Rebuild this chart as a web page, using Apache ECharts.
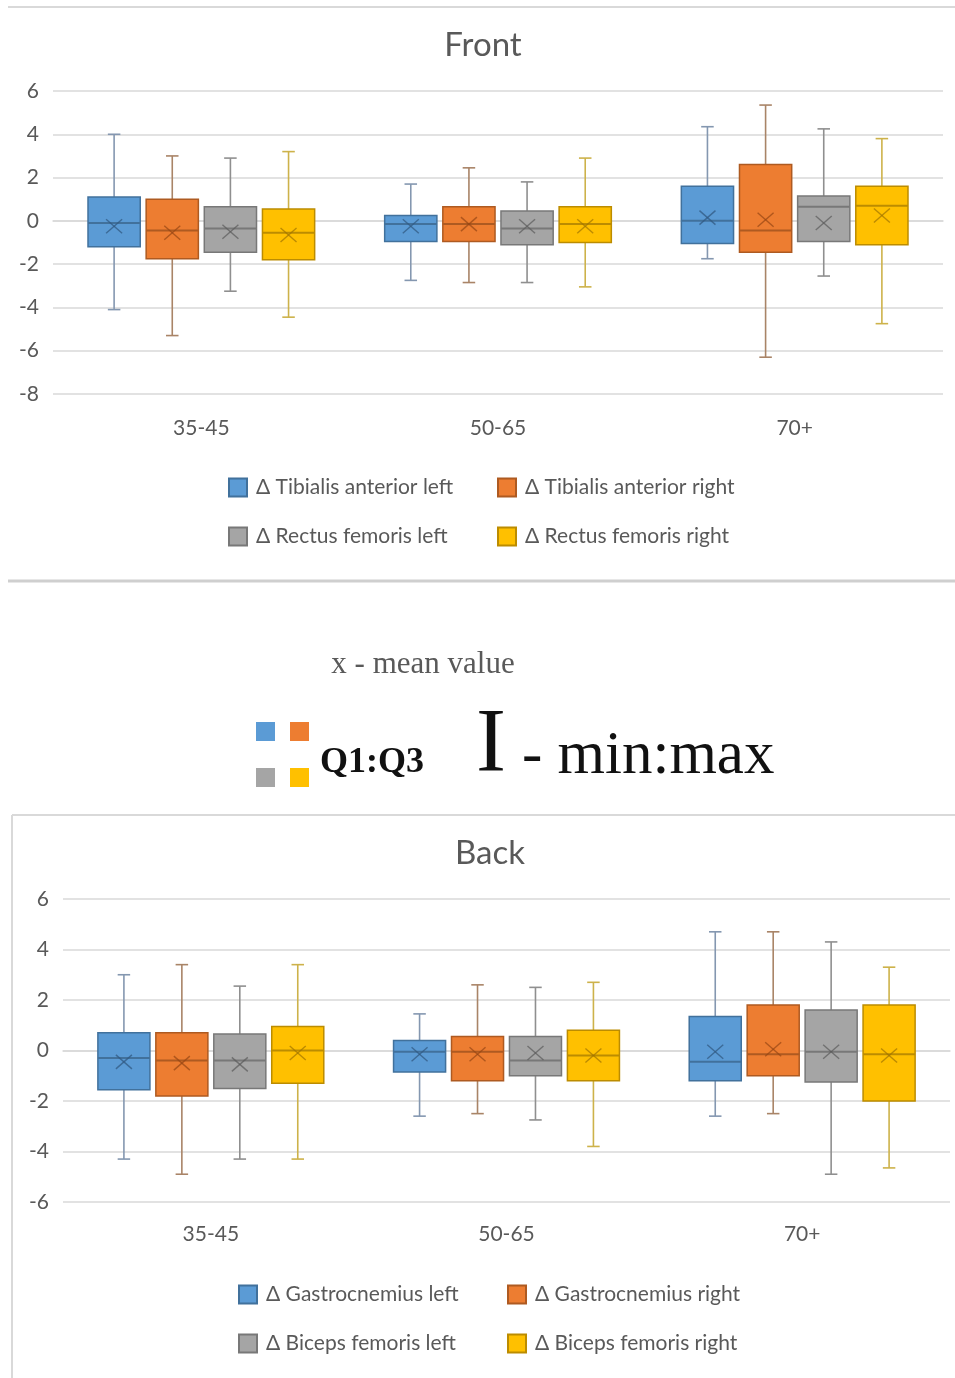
<!DOCTYPE html>
<html>
<head>
<meta charset="utf-8">
<script src="https://cdn.jsdelivr.net/npm/echarts@6/dist/echarts.min.js"></script>
<style>
html,body{margin:0;padding:0;background:#fff;}
#chart{width:955px;height:1378px;}
</style>
</head>
<body>
<div id="chart"></div>
<script>
// ---------- DATA ----------
const categories = ['35-45', '50-65', '70+'];
// each entry per category: [min, Q1, median, Q3, max, mean]
const frontNames = ['Δ Tibialis anterior left', 'Δ Tibialis anterior right', 'Δ Rectus femoris left', 'Δ Rectus femoris right'];
const tibialisLeft  = [[-4.1, -1.2, -0.1, 1.1, 4.0, -0.25], [-2.75, -0.95, -0.15, 0.25, 1.7, -0.25], [-1.75, -1.05, 0.0, 1.6, 4.35, 0.15]];
const tibialisRight = [[-5.3, -1.75, -0.45, 1.0, 3.0, -0.55], [-2.85, -0.95, -0.15, 0.65, 2.45, -0.15], [-6.3, -1.45, -0.45, 2.6, 5.35, 0.05]];
const rectusLeft    = [[-3.25, -1.45, -0.35, 0.65, 2.9, -0.5], [-2.85, -1.1, -0.35, 0.45, 1.8, -0.25], [-2.55, -0.95, 0.65, 1.15, 4.25, -0.1]];
const rectusRight   = [[-4.45, -1.8, -0.55, 0.55, 3.2, -0.65], [-3.05, -1.0, -0.15, 0.65, 2.9, -0.25], [-4.75, -1.1, 0.7, 1.6, 3.8, 0.25]];

const backNames = ['Δ Gastrocnemius left', 'Δ Gastrocnemius right', 'Δ Biceps femoris left', 'Δ Biceps femoris right'];
const gastroLeft    = [[-4.3, -1.55, -0.3, 0.7, 3.0, -0.45], [-2.6, -0.85, -0.05, 0.4, 1.45, -0.15], [-2.6, -1.2, -0.45, 1.35, 4.7, -0.05]];
const gastroRight   = [[-4.9, -1.8, -0.4, 0.7, 3.4, -0.5], [-2.5, -1.2, -0.05, 0.55, 2.6, -0.15], [-2.5, -1.0, -0.15, 1.8, 4.7, 0.05]];
const bicepsLeft    = [[-4.3, -1.5, -0.4, 0.65, 2.55, -0.55], [-2.75, -1.0, -0.4, 0.55, 2.5, -0.1], [-4.9, -1.25, -0.05, 1.6, 4.3, -0.05]];
const bicepsRight   = [[-4.3, -1.3, 0.0, 0.95, 3.4, -0.1], [-3.8, -1.2, -0.2, 0.8, 2.7, -0.2], [-4.65, -2.0, -0.15, 1.8, 3.3, -0.2]];

const frontTicks = { min: -8, max: 6, interval: 2 };
const backTicks  = { min: -6, max: 6, interval: 2 };

// ---------- STYLE ----------
const fills    = ['#5B9BD5', '#ED7D31', '#A5A5A5', '#FFC000'];
const borders  = ['#41719C', '#AE5A21', '#787878', '#BC8C00'];
const whiskers = ['#8497B0', '#A98467', '#8F8F8F', '#CDB24A'];
const marks    = ['rgba(50,90,130,0.75)', 'rgba(150,70,20,0.7)', 'rgba(90,90,90,0.7)', 'rgba(160,115,0,0.7)'];
const txt = '#595959';
const font = 'Lato, "Open Sans", sans-serif';

function makeRender(slot) {
  return function (params, api) {
    const cat = api.value(0);
    const band = api.size([1, 0])[0];
    const cx = api.coord([cat, 0])[0] + (slot - 1.5) * band * 0.196;
    const w = band * 0.176;
    const Y = i => api.coord([cat, api.value(i)])[1];
    const yMin = Y(1), yQ1 = Y(2), yMed = Y(3), yQ3 = Y(4), yMax = Y(5), yMean = Y(6);
    const cap = w * 0.24;
    const ws = { stroke: whiskers[slot], lineWidth: 1.6 };
    const xs = 8, ys = 7;
    return {
      type: 'group',
      children: [
        { type: 'line', shape: { x1: cx, y1: yMax, x2: cx, y2: yQ3 }, style: ws },
        { type: 'line', shape: { x1: cx, y1: yQ1, x2: cx, y2: yMin }, style: ws },
        { type: 'line', shape: { x1: cx - cap / 2, y1: yMax, x2: cx + cap / 2, y2: yMax }, style: ws },
        { type: 'line', shape: { x1: cx - cap / 2, y1: yMin, x2: cx + cap / 2, y2: yMin }, style: ws },
        { type: 'rect', shape: { x: cx - w / 2, y: yQ3, width: w, height: yQ1 - yQ3 },
          style: { fill: fills[slot], stroke: borders[slot], lineWidth: 1.5 } },
        { type: 'line', shape: { x1: cx - w / 2, y1: yMed, x2: cx + w / 2, y2: yMed },
          style: { stroke: borders[slot], lineWidth: 2 } },
        { type: 'line', shape: { x1: cx - xs, y1: yMean - ys, x2: cx + xs, y2: yMean + ys },
          style: { stroke: marks[slot], lineWidth: 1.4 } },
        { type: 'line', shape: { x1: cx - xs, y1: yMean + ys, x2: cx + xs, y2: yMean - ys },
          style: { stroke: marks[slot], lineWidth: 1.4 } }
      ]
    };
  };
}

function toData(arr) {
  return arr.map((v, i) => [i].concat(v));
}

function makeSeries(names, arrays, axisIdx) {
  return arrays.map((arr, k) => ({
    type: 'custom',
    name: names[k],
    xAxisIndex: axisIdx,
    yAxisIndex: axisIdx,
    renderItem: makeRender(k),
    itemStyle: { color: fills[k], borderColor: borders[k], borderWidth: 1.2 },
    encode: { x: 0, y: [1, 2, 3, 4, 5, 6] },
    clip: false,
    data: toData(arr)
  }));
}

function legendCol(names, idxs, left, top) {
  return {
    left: left, top: top, orient: 'vertical', padding: 0,
    itemWidth: 18, itemHeight: 18, itemGap: 28,
    selectedMode: false,
    textStyle: { color: txt, fontSize: 21, fontFamily: font, padding: [0, 0, 0, 4] },
    data: idxs.map(i => ({ name: names[i], icon: 'rect' }))
  };
}

function xAx(gridIndex, margin) {
  return {
    type: 'category', gridIndex: gridIndex, data: categories,
    axisLine: { show: true, lineStyle: { color: '#d9d9d9', width: 1.5 } },
    axisTick: { show: false },
    axisLabel: { color: txt, fontSize: 21, fontFamily: font, margin: margin },
    splitLine: { show: false }
  };
}
function yAx(gridIndex, t) {
  return {
    type: 'value', gridIndex: gridIndex, min: t.min, max: t.max, interval: t.interval,
    axisLine: { show: false }, axisTick: { show: false },
    axisLabel: { color: txt, fontSize: 21, fontFamily: font, margin: 14 },
    splitLine: { lineStyle: { color: '#d9d9d9', width: 1.5 } }
  };
}

const chart = echarts.init(document.getElementById('chart'), null, { renderer: 'canvas' });

const option = {
  animation: false,
  backgroundColor: '#ffffff',
  grid: [
    { left: 53, top: 91, width: 890, height: 303, containLabel: false },
    { left: 63, top: 899, width: 887, height: 303, containLabel: false }
  ],
  xAxis: [xAx(0, 24), xAx(1, 22)],
  yAxis: [yAx(0, frontTicks), yAx(1, backTicks)],
  legend: [
    legendCol(frontNames, [0, 2], 228, 477),
    legendCol(frontNames, [1, 3], 497, 477),
    legendCol(backNames, [0, 2], 238, 1284),
    legendCol(backNames, [1, 3], 507, 1284)
  ],
  graphic: [
    // frames
    { type: 'line', shape: { x1: 8, y1: 7, x2: 955, y2: 7 }, style: { stroke: '#d9d9d9', lineWidth: 2 } },
    { type: 'line', shape: { x1: 8, y1: 581, x2: 955, y2: 581 }, style: { stroke: '#cfcfcf', lineWidth: 3 } },
    { type: 'line', shape: { x1: 12, y1: 815, x2: 955, y2: 815 }, style: { stroke: '#d9d9d9', lineWidth: 2 } },
    { type: 'line', shape: { x1: 12, y1: 815, x2: 12, y2: 1378 }, style: { stroke: '#d9d9d9', lineWidth: 2 } },
    // titles
    { type: 'text', x: 483, y: 45, style: { text: 'Front', fill: txt, font: '33px ' + font, align: 'center', verticalAlign: 'middle' } },
    { type: 'text', x: 490, y: 853, style: { text: 'Back', fill: txt, font: '33px ' + font, align: 'center', verticalAlign: 'middle' } },
    // key in the middle
    { type: 'text', x: 423, y: 665, style: { text: 'x - mean value', fill: txt, font: '31px "Liberation Serif", serif', align: 'center', verticalAlign: 'middle' } },
    { type: 'rect', shape: { x: 256, y: 722, width: 19, height: 19 }, style: { fill: fills[0] } },
    { type: 'rect', shape: { x: 290, y: 722, width: 19, height: 19 }, style: { fill: fills[1] } },
    { type: 'rect', shape: { x: 256, y: 768, width: 19, height: 19 }, style: { fill: fills[2] } },
    { type: 'rect', shape: { x: 290, y: 768, width: 19, height: 19 }, style: { fill: fills[3] } },
    { type: 'text', x: 320, y: 763, style: { text: 'Q1:Q3', fill: '#111', font: 'bold 36px "Liberation Serif", serif', align: 'left', verticalAlign: 'middle' } },
    { type: 'text', x: 476, y: 747, style: { text: 'I', fill: '#111', font: '90px "Liberation Serif", serif', align: 'left', verticalAlign: 'middle' } },
    { type: 'text', x: 522, y: 757, style: { text: '- min:max', fill: '#111', font: '61px "Liberation Serif", serif', align: 'left', verticalAlign: 'middle' } }
  ],
  series: [].concat(
    makeSeries(frontNames, [tibialisLeft, tibialisRight, rectusLeft, rectusRight], 0),
    makeSeries(backNames, [gastroLeft, gastroRight, bicepsLeft, bicepsRight], 1)
  )
};
chart.setOption(option);
</script>
</body>
</html>
